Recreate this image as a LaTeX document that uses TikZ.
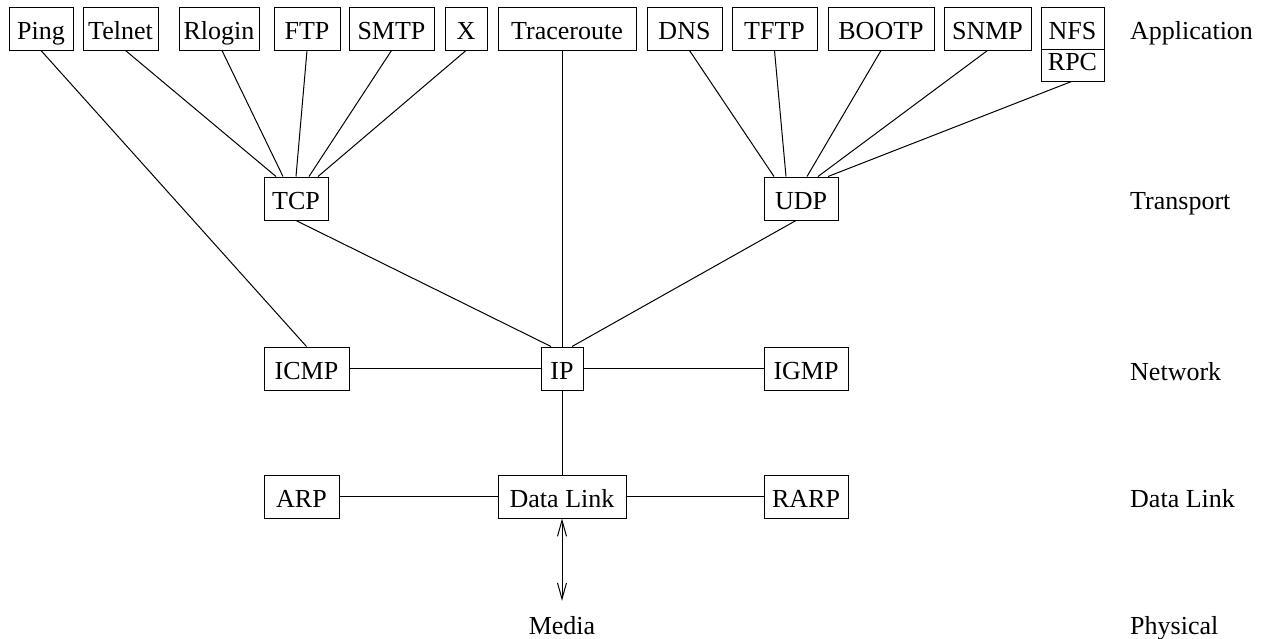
\documentclass[tikz,border=0pt]{standalone}
\usepackage{fontspec}
\setmainfont{Liberation Serif}
\usetikzlibrary{calc,arrows.meta}
\begin{document}
\begin{tikzpicture}[x=1pt,y=-1pt,
  font=\fontsize{26}{31}\selectfont,
  box/.style={draw, line width=1pt, inner sep=0pt, minimum height=43pt,
              text height=27pt, text depth=5pt},
  link/.style={line width=1pt},
  layer/.style={anchor=base west, inner sep=0pt},
  dbl/.style={line width=1pt,
    {Straight Barb[length=16pt,width=9pt]}-{Straight Barb[length=16pt,width=9pt]}}]
\useasboundingbox (0,0) rectangle (1262,638);

% Application layer
\node[box, minimum width=64pt]  (ping)   at (41,28.5)    {Ping};
\node[box, minimum width=75pt]  (telnet) at (120.5,28.5) {Telnet};
\node[box, minimum width=80pt]  (rlogin) at (219,28.5)   {Rlogin};
\node[box, minimum width=66pt]  (ftp)    at (307,28.5)   {FTP};
\node[box, minimum width=85pt]  (smtp)   at (391.5,28.5) {SMTP};
\node[box, minimum width=42pt]  (xwin)   at (466,28.5)   {X};
\node[box, minimum width=138pt] (trace)  at (567,28.5)   {Traceroute};
\node[box, minimum width=75pt]  (dns)    at (684.5,28.5) {DNS};
\node[box, minimum width=85pt]  (tftp)   at (774.5,28.5) {TFTP};
\node[box, minimum width=106pt] (bootp)  at (881,28.5)   {BOOTP};
\node[box, minimum width=87pt]  (snmp)   at (987.5,28.5) {SNMP};
\node[box, minimum width=63pt, minimum height=42pt] (nfs) at (1072.5,28) {NFS};
\node[box, minimum width=63pt, minimum height=32pt, text height=15pt] (rpc) at (1072.5,65) {RPC};

% Transport layer
\node[box, minimum width=64pt] (tcp) at (296,198.5) {TCP};
\node[box, minimum width=74pt] (udp) at (801,198.5) {UDP};

% Network layer
\node[box, minimum width=85pt] (icmp) at (306.5,368.5) {ICMP};
\node[box, minimum width=42pt] (ip)   at (562,368.5)   {IP};
\node[box, minimum width=84pt] (igmp) at (806,368.5)   {IGMP};

% Data link layer
\node[box, minimum width=75pt]  (arp)  at (301.5,496.5) {ARP};
\node[box, minimum width=128pt] (dl)   at (562,496.5)   {Data Link};
\node[box, minimum width=84pt]  (rarp) at (806,496.5)   {RARP};

% Physical medium
\node[anchor=base, inner sep=0pt] (media) at (562,634) {Media};

% Layer names
\node[layer] (lapp)  at (1130,39.5) {Application};
\node[layer] (ltrn)  at (1130,209.5) {Transport};
\node[layer] (lnet)  at (1130,380) {Network};
\node[layer] (llink) at (1130,507.5) {Data Link};
\node[layer] (lphy)  at (1130,634) {Physical};

% Applications over TCP
\draw[link] ($(telnet.south)+(5,0)$) -- ($(tcp.north)+(-20,0)$);
\draw[link] ($(rlogin.south)+(3,0)$) -- ($(tcp.north)+(-13,0)$);
\draw[link] (ftp.south)  -- (tcp.north);
\draw[link] (smtp.south) -- ($(tcp.north)+(13,0)$);
\draw[link] (xwin.south) -- ($(tcp.north)+(22,0)$);

% Applications over UDP
\draw[link] ($(dns.south)+(5,0)$) -- ($(udp.north)+(-27,0)$);
\draw[link] (tftp.south)  -- ($(udp.north)+(-15,0)$);
\draw[link] (bootp.south) -- ($(udp.north)+(6,0)$);
\draw[link] (snmp.south)  -- ($(udp.north)+(17,0)$);
\draw[link] ($(rpc.south)+(-1,0)$) -- ($(udp.north)+(27,0)$);

% Direct users of IP and ICMP
\draw[link] (ping.south) -- (icmp.north);
\draw[link] (trace.south -| ip.north) -- (ip.north);

% Transport to network
\draw[link] (tcp.south) -- ($(ip.north)+(-11,0)$);
\draw[link] ($(udp.south)+(-5,0)$) -- ($(ip.north)+(10,0)$);

% Network and link layer connections
\draw[link] (icmp) -- (ip);
\draw[link] (ip) -- (igmp);
\draw[link] (ip.south) -- (dl.north);
\draw[link] (arp) -- (dl);
\draw[link] (dl) -- (rarp);
\draw[dbl] (dl.south) -- ([yshift=15pt]media.north);
\end{tikzpicture}
\end{document}
